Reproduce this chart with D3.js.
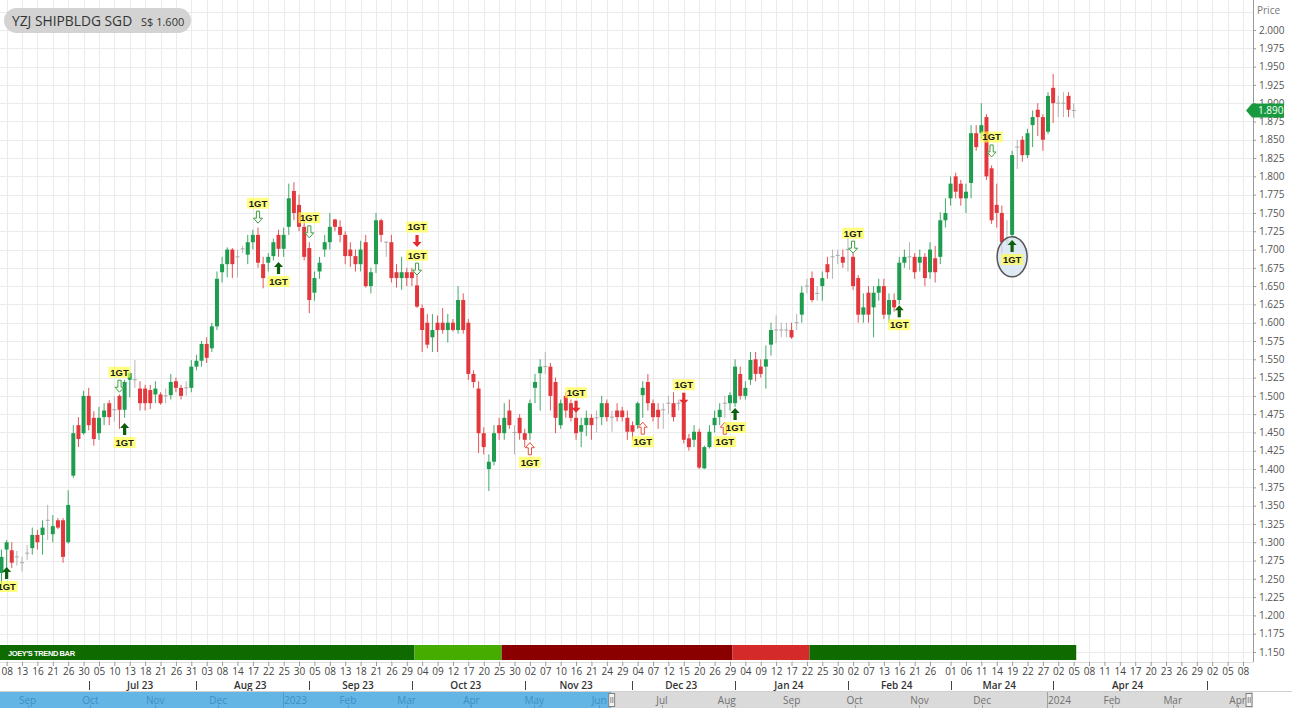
<!DOCTYPE html>
<html>
<head>
<meta charset="utf-8">
<script src="https://d3js.org/d3.v7.min.js"></script>
<style>
	html, body { margin:0; padding:0; background:#fff; overflow:hidden; }
	svg { display:block; font-family:'Open Sans', 'DejaVu Sans', sans-serif; }
</style>
</head>
<body>
<script>
// ---- data ----
var holidays = ['2023-06-29','2023-08-09','2023-09-01','2023-11-13','2023-12-25','2024-01-01','2024-02-12','2024-03-29']
var firstDay = '2023-06-07', lastDay = '2024-04-05', lastSlot = '2024-05-10'

var open = [
	1.258,1.290,1.289,1.280,1.272,1.285,1.292,1.310,1.310,1.330,
	1.311,1.330,1.330,1.300,1.391,1.460,1.449,1.500,1.470,1.449,
	1.471,1.490,1.481,1.500,1.481,1.522,1.522,1.510,1.510,1.508,
	1.502,1.502,1.500,1.501,1.520,1.511,1.511,1.511,1.540,1.548,
	1.571,1.565,1.595,1.669,1.680,1.700,1.690,1.701,1.693,1.710,
	1.720,1.680,1.682,1.691,1.720,1.701,1.731,1.780,1.761,1.731,
	1.702,1.641,1.670,1.700,1.710,1.741,1.731,1.720,1.700,1.691,
	1.680,1.710,1.650,1.680,1.740,1.710,1.710,1.669,1.661,1.669,
	1.669,1.651,1.620,1.600,1.580,1.600,1.600,1.590,1.600,1.590,
	1.631,1.600,1.530,1.510,1.449,1.400,1.410,1.460,1.449,1.480,
	1.450,1.470,1.449,1.449,1.511,1.531,1.540,1.540,1.519,1.460,
	1.500,1.490,1.470,1.451,1.460,1.470,1.470,1.471,1.490,1.471,
	1.480,1.480,1.470,1.460,1.460,1.501,1.519,1.490,1.481,1.481,
	1.490,1.490,1.490,1.490,1.442,1.440,1.451,1.401,1.430,1.460,
	1.471,1.490,1.490,1.490,1.530,1.500,1.522,1.550,1.540,1.540,
	1.570,1.590,1.590,1.590,1.590,1.600,1.611,1.650,1.661,1.640,
	1.650,1.680,1.690,1.692,1.690,1.700,1.690,1.661,1.611,1.641,
	1.621,1.641,1.650,1.611,1.631,1.631,1.682,1.690,1.690,1.682,
	1.690,1.669,1.688,1.690,1.740,1.770,1.800,1.790,1.770,1.791,
	1.859,1.859,1.881,1.811,1.761,1.750,1.712,1.720,1.840,1.850,
	1.829,1.870,1.891,1.881,1.861,1.921,1.900,1.900,1.910,1.890
]
var high = [
	1.290,1.303,1.300,1.288,1.280,1.296,1.320,1.317,1.330,1.351,
	1.337,1.333,1.333,1.371,1.460,1.471,1.507,1.511,1.479,1.485,
	1.490,1.494,1.500,1.502,1.522,1.533,1.549,1.520,1.515,1.515,
	1.520,1.505,1.510,1.530,1.525,1.515,1.520,1.549,1.556,1.575,
	1.580,1.600,1.670,1.690,1.703,1.702,1.700,1.705,1.720,1.727,
	1.730,1.690,1.695,1.715,1.727,1.730,1.790,1.792,1.775,1.740,
	1.710,1.670,1.690,1.720,1.750,1.742,1.740,1.725,1.710,1.700,
	1.712,1.720,1.675,1.750,1.742,1.711,1.720,1.680,1.690,1.675,
	1.675,1.665,1.625,1.612,1.612,1.610,1.620,1.612,1.605,1.650,
	1.640,1.605,1.535,1.520,1.457,1.420,1.460,1.470,1.490,1.495,
	1.460,1.475,1.455,1.495,1.530,1.550,1.560,1.545,1.525,1.495,
	1.505,1.495,1.480,1.470,1.480,1.475,1.480,1.500,1.495,1.480,
	1.490,1.485,1.480,1.465,1.492,1.520,1.530,1.495,1.490,1.490,
	1.500,1.505,1.495,1.492,1.448,1.460,1.455,1.432,1.460,1.480,
	1.490,1.500,1.505,1.550,1.540,1.520,1.560,1.560,1.550,1.569,
	1.600,1.610,1.600,1.600,1.600,1.612,1.650,1.660,1.670,1.650,
	1.670,1.690,1.700,1.700,1.700,1.720,1.695,1.665,1.640,1.650,
	1.650,1.660,1.660,1.640,1.640,1.690,1.700,1.710,1.695,1.700,
	1.695,1.710,1.705,1.751,1.770,1.800,1.805,1.795,1.790,1.870,
	1.870,1.900,1.885,1.815,1.790,1.760,1.740,1.835,1.850,1.855,
	1.865,1.890,1.900,1.885,1.915,1.940,1.910,1.915,1.915,1.900
]
var low = [
	1.238,1.262,1.265,1.268,1.260,1.276,1.283,1.290,1.283,1.303,
	1.300,1.318,1.272,1.298,1.388,1.430,1.447,1.453,1.432,1.440,
	1.460,1.460,1.465,1.455,1.470,1.498,1.511,1.480,1.480,1.482,
	1.490,1.488,1.490,1.495,1.505,1.495,1.500,1.505,1.535,1.540,
	1.545,1.560,1.590,1.655,1.662,1.661,1.662,1.695,1.680,1.700,
	1.675,1.647,1.670,1.685,1.690,1.690,1.720,1.740,1.725,1.685,
	1.613,1.630,1.660,1.690,1.700,1.725,1.710,1.680,1.676,1.670,
	1.670,1.648,1.640,1.668,1.710,1.690,1.655,1.648,1.645,1.650,
	1.650,1.620,1.560,1.565,1.560,1.560,1.585,1.573,1.588,1.585,
	1.585,1.522,1.511,1.422,1.420,1.370,1.405,1.440,1.440,1.455,
	1.420,1.440,1.430,1.440,1.490,1.480,1.530,1.480,1.449,1.455,
	1.470,1.465,1.440,1.430,1.445,1.440,1.450,1.460,1.465,1.451,
	1.465,1.465,1.440,1.440,1.455,1.470,1.480,1.465,1.455,1.455,
	1.475,1.465,1.480,1.435,1.425,1.430,1.400,1.400,1.428,1.450,
	1.460,1.470,1.480,1.485,1.495,1.495,1.515,1.520,1.525,1.510,
	1.555,1.572,1.580,1.580,1.578,1.590,1.600,1.640,1.628,1.630,
	1.630,1.660,1.660,1.680,1.675,1.670,1.645,1.600,1.600,1.600,
	1.580,1.630,1.605,1.600,1.615,1.625,1.675,1.672,1.660,1.670,
	1.650,1.660,1.655,1.680,1.730,1.760,1.770,1.760,1.750,1.770,
	1.835,1.850,1.795,1.735,1.730,1.695,1.705,1.718,1.810,1.820,
	1.825,1.840,1.855,1.835,1.858,1.873,1.881,1.881,1.881,1.880
]
var close = [
	1.280,1.300,1.272,1.280,1.272,1.285,1.310,1.300,1.320,1.330,
	1.322,1.320,1.280,1.351,1.449,1.441,1.500,1.460,1.441,1.470,
	1.480,1.471,1.481,1.481,1.519,1.531,1.522,1.490,1.490,1.490,
	1.510,1.490,1.500,1.519,1.511,1.500,1.511,1.540,1.548,1.571,
	1.552,1.595,1.660,1.680,1.700,1.680,1.690,1.701,1.710,1.720,
	1.682,1.661,1.690,1.710,1.701,1.720,1.770,1.750,1.731,1.690,
	1.631,1.661,1.682,1.710,1.731,1.731,1.720,1.691,1.691,1.680,
	1.700,1.650,1.669,1.740,1.720,1.710,1.661,1.661,1.669,1.661,
	1.661,1.622,1.590,1.570,1.590,1.590,1.590,1.600,1.590,1.631,
	1.590,1.530,1.519,1.449,1.430,1.410,1.449,1.449,1.470,1.460,
	1.450,1.449,1.440,1.490,1.519,1.540,1.540,1.500,1.470,1.490,
	1.480,1.470,1.449,1.460,1.470,1.460,1.470,1.490,1.471,1.471,
	1.471,1.471,1.451,1.451,1.490,1.511,1.490,1.471,1.471,1.481,
	1.490,1.471,1.490,1.440,1.430,1.451,1.402,1.430,1.451,1.470,
	1.481,1.490,1.501,1.540,1.500,1.511,1.549,1.530,1.530,1.550,
	1.590,1.590,1.590,1.590,1.580,1.600,1.641,1.650,1.631,1.640,
	1.661,1.669,1.690,1.692,1.682,1.700,1.650,1.611,1.621,1.611,
	1.641,1.650,1.611,1.631,1.621,1.682,1.690,1.690,1.669,1.690,
	1.661,1.700,1.669,1.740,1.750,1.790,1.779,1.770,1.779,1.859,
	1.840,1.870,1.800,1.740,1.750,1.710,1.712,1.829,1.840,1.829,
	1.859,1.881,1.881,1.850,1.910,1.900,1.900,1.900,1.891,1.890
]

// 1GT signals: candle index, kind, arrow tip price
var sigIndex = [1, 23, 24, 50, 54, 60, 81, 81, 103, 112, 125, 133, 141, 143, 166, 175, 193, 197]
var sigKind = ['buy','watchSell','buy','watchSell','buy','watchSell','sell','watchSell','watchBuy','sell',
	'watchBuy','sell','watchBuy','buy','watchSell','buy','watchSell','buy']
var sigPrice = [1.266, 1.505, 1.463, 1.736, 1.683, 1.716, 1.7035, 1.665, 1.436, 1.477,
	1.464, 1.488, 1.464, 1.4835, 1.695, 1.624, 1.8265, 1.713]
var circleIndex = 197, circlePrice = 1.69

// Joey's trend bar: first candle of each state
var trendStart = [0, 81, 98, 143, 158]
var trendState = ['up', 'upWeak', 'down', 'downWeak', 'up']

var lastPrice = 1.890
var tickMonths = ['2023-06','2023-07','2023-08','2023-09','2023-10','2023-11','2023-12','2024-01','2024-02','2024-03','2024-04','2024-05']
var tickDays = [
	[8,13,16,21,26,30],[5,10,13,18,21,26,31],[3,8,14,17,22,25,30],[5,8,13,18,21,26,29],
	[4,9,12,17,20,25,30],[2,7,10,16,21,24,29],[4,7,12,15,20,26,29],[4,9,12,17,22,25,30],
	[2,7,13,16,21,26],[1,6,11,14,19,22,27],[2,5,8,11,14,17,20,23,26,29],[2,5,8]
]
var axisMonths = ['2023-07','2023-08','2023-09','2023-10','2023-11','2023-12','2024-01','2024-02','2024-03','2024-04']
var navStart = '2022-09-01', navEnd = '2024-04-01'

// ---- layout ----
var width = 1292, height = 708
var plotRight = 1253, plotBottom = 662
var trendColors = { up: '#0f6a00', upWeak: '#46ad00', down: '#8a0000', downWeak: '#d42a2a' }
var green = '#1e9d4f', red = '#e2383d', grey = '#a9a9a9'

var parse = d3.utcParse('%Y-%m-%d'), fmt = d3.utcFormat('%Y-%m-%d')
var days = d3.utcDay.range(parse(firstDay), d3.utcDay.offset(parse(lastDay), 1))
	.filter(function(d){ var w = d.getUTCDay(); return w > 0 && w < 6 && holidays.indexOf(fmt(d)) < 0 })
var future = d3.utcDay.range(d3.utcDay.offset(parse(lastDay), 1), d3.utcDay.offset(parse(lastSlot), 1))
var slots = days.concat(future).map(fmt)

var candles = days.map(function(d, i){
	return { key: fmt(d), o: open[i], h: high[i], l: low[i], c: close[i] }
})

var x = d3.scalePoint().domain(slots).range([1.5, 1.5 + 5.13 * (slots.length - 1)])
var y = d3.scaleLinear().domain([1.15, 2.0]).range([652, 30])
var priceTicks = d3.range(0, 35).map(function(i){ return +(1.15 + i * 0.025).toFixed(3) })
var gridPrices = priceTicks.concat([2.025])

var tickKeys = []
tickMonths.forEach(function(m, i){
	tickDays[i].forEach(function(d){ tickKeys.push(m + '-' + (d < 10 ? '0' : '') + d) })
})

var svg = d3.select('body').append('svg')
	.attr('width', width)
	.attr('height', height)

svg.append('rect').attr('width', width).attr('height', height).attr('fill', '#fff')

// grid
var grid = svg.append('g').attr('stroke', '#ebebeb').attr('stroke-width', 1)
grid.selectAll('.hg').data(gridPrices).enter().append('line')
	.attr('x1', 0).attr('x2', plotRight)
	.attr('y1', function(d){ return Math.round(y(d)) + 0.5 })
	.attr('y2', function(d){ return Math.round(y(d)) + 0.5 })
grid.selectAll('.vg').data(tickKeys).enter().append('line')
	.attr('x1', function(d){ return Math.round(x(d)) + 0.5 })
	.attr('x2', function(d){ return Math.round(x(d)) + 0.5 })
	.attr('y1', 0).attr('y2', plotBottom)

// trend bar
var step = x.step()
var segs = trendStart.map(function(s, i){
	var e = i < trendStart.length - 1 ? trendStart[i + 1] - 1 : candles.length - 1
	return { s: s, e: e, state: trendState[i] }
})
svg.selectAll('.trend').data(segs).enter().append('rect')
	.attr('x', function(d){ return d.s === 0 ? 0 : x(slots[d.s]) - step / 2 })
	.attr('width', function(d){ return x(slots[d.e]) + step / 2 - (d.s === 0 ? 0 : x(slots[d.s]) - step / 2) })
	.attr('y', 645).attr('height', 15)
	.attr('fill', function(d){ return trendColors[d.state] })
svg.append('text').attr('x', 8).attr('y', 655.5)
	.attr('fill', '#fff').attr('font-size', 7.5).attr('font-weight', 'bold')
	.attr('font-family', 'Liberation Sans, Arial, sans-serif').attr('letter-spacing', -0.4)
	.text("JOEY'S TREND BAR")

// candles
function colorOf(d){ return d.c > d.o ? green : d.c < d.o ? red : grey }
var cg = svg.append('g')
var cs = cg.selectAll('.candle').data(candles).enter().append('g')
cs.append('line')
	.attr('x1', function(d){ return x(d.key) }).attr('x2', function(d){ return x(d.key) })
	.attr('y1', function(d){ return y(d.h) }).attr('y2', function(d){ return y(d.l) })
	.attr('stroke', colorOf).attr('stroke-width', 1).attr('opacity', 0.85)
cs.append('rect')
	.attr('x', function(d){ return x(d.key) - 2 })
	.attr('width', 4)
	.attr('y', function(d){ return d.o === d.c ? y(d.o) - 0.5 : y(Math.max(d.o, d.c)) })
	.attr('height', function(d){ return d.o === d.c ? 1 : Math.max(1, Math.abs(y(d.o) - y(d.c))) })
	.attr('fill', colorOf)

// highlight ellipse
svg.append('ellipse')
	.attr('cx', x(candles[circleIndex].key)).attr('cy', y(circlePrice))
	.attr('rx', 15).attr('ry', 20)
	.attr('fill', '#d6e3f2').attr('fill-opacity', 0.75)
	.attr('stroke', '#555').attr('stroke-width', 1.5)

// 1GT signals
var sigs = sigIndex.map(function(i, k){ return { key: candles[i].key, kind: sigKind[k], p: sigPrice[k] } })
var upPath = 'M0,0L-4.5,5L-1.6,5L-1.6,12L1.6,12L1.6,5L4.5,5Z'
var downPath = 'M0,0L-4.5,-5L-1.6,-5L-1.6,-12L1.6,-12L1.6,-5L4.5,-5Z'
var sg = svg.selectAll('.sig').data(sigs).enter().append('g')
	.attr('transform', function(d){ return 'translate(' + x(d.key) + ',' + y(d.p) + ')' })
sg.append('path')
	.attr('d', function(d){ return d.kind === 'buy' || d.kind === 'watchBuy' ? upPath : downPath })
	.attr('fill', function(d){
		return d.kind === 'buy' ? '#0d5e0d' : d.kind === 'sell' ? '#e52b2b' : '#fff'
	})
	.attr('stroke', function(d){
		return d.kind === 'watchSell' ? '#3f9f3f' : d.kind === 'watchBuy' ? '#e5533b' : 'none'
	})
	.attr('stroke-width', 1)
var lab = sg.append('g')
	.attr('transform', function(d){ return 'translate(0,' + (d.kind === 'buy' || d.kind === 'watchBuy' ? 19.5 : -20) + ')' })
lab.append('rect')
	.attr('x', -11).attr('y', -5.5).attr('width', 22).attr('height', 11).attr('rx', 1)
	.attr('fill', '#ffff44').attr('fill-opacity', 0.68)
lab.append('text')
	.attr('text-anchor', 'middle').attr('y', 3.5)
	.attr('font-size', 9.5).attr('font-weight', 'bold')
	.attr('font-family', 'Liberation Sans, Arial, sans-serif')
	.attr('fill', '#1a1a1a')
	.text('1GT')

// price axis
svg.append('line')
	.attr('x1', plotRight + 0.5).attr('x2', plotRight + 0.5)
	.attr('y1', 0).attr('y2', plotBottom)
	.attr('stroke', '#9a9a9a')
var yAxis = svg.append('g')
	.attr('transform', 'translate(' + plotRight + ',0)')
	.call(d3.axisRight(y).tickValues(priceTicks).tickFormat(d3.format('.3f')).tickSize(3).tickPadding(3))
yAxis.select('.domain').remove()
yAxis.selectAll('line').attr('stroke', '#9a9a9a')
yAxis.selectAll('text').attr('fill', '#555').attr('font-size', 10).attr('font-family', 'Open Sans, sans-serif')
svg.append('text').attr('x', 1257).attr('y', 14)
	.attr('fill', '#777').attr('font-size', 10).text('Price')

// last price tag
var ly = y(lastPrice)
svg.append('path')
	.attr('d', 'M1246,' + ly + 'L1252,' + (ly - 7) + 'L1284,' + (ly - 7) + 'L1284,' + (ly + 7) + 'L1252,' + (ly + 7) + 'Z')
	.attr('fill', '#199a3e')
svg.append('text').attr('x', 1258).attr('y', ly + 3.6)
	.attr('fill', '#fff').attr('font-size', 10).text(d3.format('.3f')(lastPrice))

// date axis
svg.append('line').attr('x1', 0).attr('x2', plotRight).attr('y1', plotBottom + 0.5).attr('y2', plotBottom + 0.5)
	.attr('stroke', '#dedede')
var xAxis = svg.append('g')
	.attr('transform', 'translate(0,' + plotBottom + ')')
	.call(d3.axisBottom(x).tickValues(tickKeys).tickFormat(function(k){ return k.slice(8) }).tickSize(4).tickPadding(2))
xAxis.select('.domain').remove()
xAxis.selectAll('line').attr('stroke', '#9a9a9a')
xAxis.selectAll('text').attr('fill', '#444').attr('font-size', 10).attr('font-family', 'Open Sans, sans-serif')

var monthFmt = d3.utcFormat('%b %y')
var monthInfo = axisMonths.map(function(m){
	var ks = slots.filter(function(k){ return k.slice(0, 7) === m })
	return { m: m, cx: (x(ks[0]) + x(ks[ks.length - 1])) / 2 }
})
svg.selectAll('.mlab').data(monthInfo).enter().append('text')
	.attr('x', function(d){ return d.cx }).attr('y', 689)
	.attr('text-anchor', 'middle').attr('font-size', 10).attr('font-weight', 600)
	.attr('fill', '#333')
	.text(function(d){ return monthFmt(parse(d.m + '-01')) })
var sepMonths = axisMonths.concat(['2024-05'])
svg.selectAll('.msep').data(sepMonths).enter().append('line')
	.attr('x1', function(m){ return Math.round(x(slots.filter(function(k){ return k.slice(0, 7) === m })[0])) + 0.5 })
	.attr('x2', function(m){ return Math.round(x(slots.filter(function(k){ return k.slice(0, 7) === m })[0])) + 0.5 })
	.attr('y1', 681).attr('y2', 690)
	.attr('stroke', '#444')

// navigator
var navTop = 692, navH = 16
var navX = d3.scaleUtc().domain([parse(navStart), parse(navEnd)]).range([27.6, 1237.6])
var selX = navX(parse(firstDay))
svg.append('line').attr('x1', 0).attr('x2', width).attr('y1', navTop - 0.5).attr('y2', navTop - 0.5).attr('stroke', '#cfcfcf')
svg.append('rect').attr('x', 0).attr('y', navTop).attr('width', selX).attr('height', navH).attr('fill', '#63b5e3')
svg.append('rect').attr('x', selX).attr('y', navTop).attr('width', plotRight - selX).attr('height', navH).attr('fill', '#dadada')
var navTicks = navX.ticks(d3.utcMonth.every(1))
svg.selectAll('.ntick').data(navTicks).enter().append('line')
	.attr('x1', function(d){ return Math.round(navX(d)) + 0.5 }).attr('x2', function(d){ return Math.round(navX(d)) + 0.5 })
	.attr('y1', function(d){ return d.getUTCMonth() === 0 ? navTop : navTop + navH - 3 }).attr('y2', navTop + navH)
	.attr('stroke', function(d){ return navX(d) < selX ? '#4a9acc' : '#a0a0a0' })
svg.selectAll('.nlab').data(navTicks).enter().append('text')
	.attr('x', function(d){ return d.getUTCMonth() === 0 ? navX(d) + 1 : navX(d) })
	.attr('y', navTop + 11.5)
	.attr('text-anchor', function(d){ return d.getUTCMonth() === 0 ? 'start' : 'middle' })
	.attr('font-size', 10)
	.attr('fill', function(d){ return navX(d) < selX ? '#3f8fc8' : '#707070' })
	.text(function(d){ return d.getUTCMonth() === 0 ? d3.utcFormat('%Y')(d) : d3.utcFormat('%b')(d) })
;[selX, plotRight - 4].forEach(function(hx){
	svg.append('rect').attr('x', hx - 3).attr('y', navTop + 1.5).attr('width', 6).attr('height', 13)
		.attr('fill', '#f2f2f2').attr('stroke', '#808080').attr('stroke-width', 1)
	svg.append('line').attr('x1', hx - 0.8).attr('x2', hx - 0.8).attr('y1', navTop + 5).attr('y2', navTop + 11).attr('stroke', '#888')
	svg.append('line').attr('x1', hx + 1.2).attr('x2', hx + 1.2).attr('y1', navTop + 5).attr('y2', navTop + 11).attr('stroke', '#888')
})

// title pill
svg.append('rect').attr('x', 4).attr('y', 8).attr('width', 187).attr('height', 25).attr('rx', 12.5)
	.attr('fill', '#d3d3d3')
svg.append('text').attr('x', 12).attr('y', 26)
	.attr('font-size', 13.8).attr('fill', '#333').text('YZJ SHIPBLDG SGD')
svg.append('text').attr('x', 141).attr('y', 26)
	.attr('font-size', 11).attr('fill', '#333').text('S$ 1.600')

if (days.length !== open.length) console.error('candle count mismatch', days.length, open.length)
</script>
</body>
</html>
